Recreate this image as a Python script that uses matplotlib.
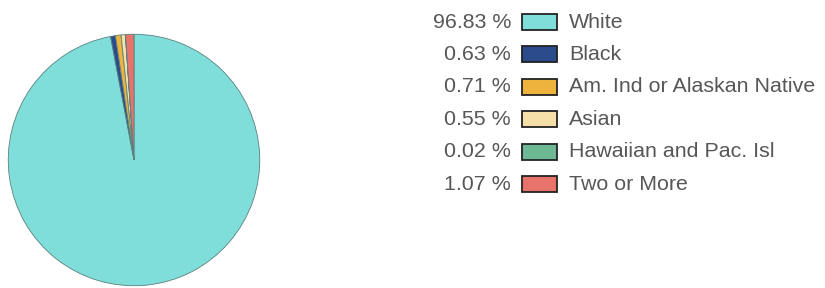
import matplotlib.pyplot as plt
from matplotlib.patches import Rectangle

plt.rcParams['font.family'] = ['Liberation Sans', 'DejaVu Sans']

labels = ['White', 'Black', 'Am. Ind or Alaskan Native', 'Asian',
          'Hawaiian and Pac. Isl', 'Two or More']
pcts = [96.83, 0.63, 0.71, 0.55, 0.02, 1.07]
colors = ['#80DEDA', '#2B4B8A', '#EDB33C', '#F6E0AA', '#6DB895', '#E8736A']

fig = plt.figure(figsize=(8.25, 2.88), dpi=100)

# pie
ax = fig.add_axes([7 / 825, 1 / 288, 254 / 825, 254 / 288])
ax.pie(pcts, colors=colors, startangle=90, counterclock=False,
       wedgeprops=dict(edgecolor='#5a8080', linewidth=0.6))
ax.set_xlim(-1.01, 1.01)
ax.set_ylim(-1.01, 1.01)
ax.set_aspect('equal')
ax.axis('off')

# legend drawn by hand in pixel coords
lg = fig.add_axes([0, 0, 1, 1])
lg.set_xlim(0, 825)
lg.set_ylim(288, 0)
lg.axis('off')
y0 = 22
dy = 32.4
for i, (lab, p, c) in enumerate(zip(labels, pcts, colors)):
    y = y0 + i * dy
    lg.text(511, y, f'{p:.2f} %', ha='right', va='center', fontsize=15.4, color='#575757')
    lg.add_patch(Rectangle((522, y - 8), 35, 16, facecolor=c,
                           edgecolor='#222222', linewidth=1.3))
    lg.text(569, y, lab, ha='left', va='center', fontsize=15.4, color='#575757')

fig.savefig('out.png', dpi=100)
